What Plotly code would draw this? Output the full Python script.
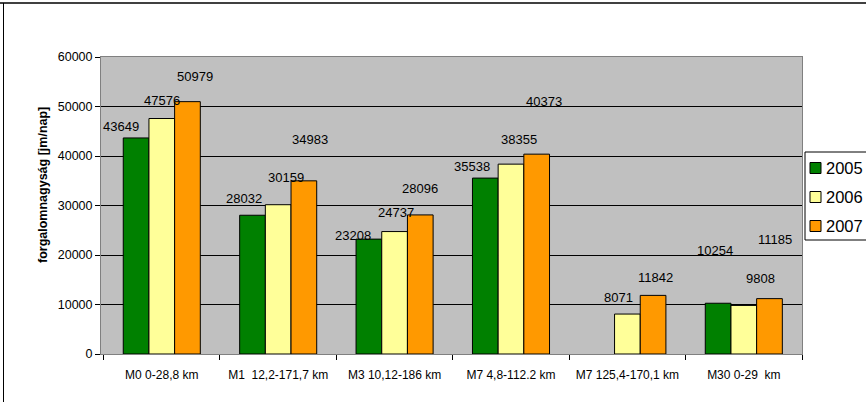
import plotly.graph_objects as go

categories = ["M0 0-28,8 km", "M1  12,2-171,7 km", "M3 10,12-186 km",
              "M7 4,8-112.2 km", "M7 125,4-170,1 km", "M30 0-29  km"]
years = ["2005", "2006", "2007"]
v2005 = [43649, 28032, 23208, 35538, None, 10254]
v2006 = [47576, 30159, 24737, 38355, 8071, 9808]
v2007 = [50979, 34983, 28096, 40373, 11842, 11185]
colors = ["#008000", "#FFFF99", "#FF9900"]
y_title = "forgalomnagyság [jm/nap]"

# label offsets (pixels) as displaced in the original chart: (dx, dy)
label_dx = [[-15, -8, -16, -13, 0, -3],
            [0, 8, 1, 8, -9, 17],
            [7, 6, 0, 7, 2, 5]]
label_dy = [[11, 17, 4, 12, 0, 53],
            [18, 27, 19, 25, 17, 27],
            [25, 41, 26, 53, 18, 59]]

W, H = 866, 402
ML, MR, MT, MB = 101, 64, 57, 48
bargap = 0.338
series = [v2005, v2006, v2007]

fig = go.Figure()
for i, (name, vals) in enumerate(zip(years, series)):
    fig.add_trace(go.Bar(
        x=categories, y=vals, name=name, showlegend=False,
        marker=dict(color=colors[i], line=dict(color="black", width=1)),
    ))

plot_w = W - ML - MR
plot_h = H - MT - MB
cat_px = plot_w / len(categories)
bar_px = cat_px * (1 - bargap) / 3

def px_x(p):
    return (p - ML) / plot_w
def px_y(p):
    return (H - MB - p) / plot_h

annotations = []
for i, vals in enumerate(series):
    for j, v in enumerate(vals):
        if v is None:
            continue
        annotations.append(dict(
            x=categories[j], y=v, xref="x", yref="y", text=str(v),
            showarrow=False, yanchor="middle", xanchor="center",
            xshift=(i - 1) * bar_px + label_dx[i][j], yshift=label_dy[i][j],
            font=dict(size=13, color="black"),
        ))

# y-axis title (placed as in the original, above axis centre)
annotations.append(dict(x=px_x(43), y=px_y(185), xref="paper", yref="paper",
                        text="<b>" + y_title + "</b>", textangle=-90, showarrow=False,
                        xanchor="center", yanchor="middle", font=dict(size=12.5, color="black")))

shapes = [
    dict(type="line", xref="paper", yref="paper", x0=px_x(0), x1=px_x(W), y0=px_y(3), y1=px_y(3),
         line=dict(color="#404040", width=2)),
    dict(type="line", xref="paper", yref="paper", x0=px_x(3.5), x1=px_x(3.5), y0=px_y(3), y1=px_y(H),
         line=dict(color="black", width=1)),
    # legend box
    dict(type="rect", xref="paper", yref="paper", x0=px_x(805), x1=px_x(870), y0=px_y(152), y1=px_y(240),
         line=dict(color="black", width=1), fillcolor="white", layer="above"),
]
leg_y = [168, 197, 226]
for i, name in enumerate(years):
    shapes.append(dict(type="rect", xref="paper", yref="paper",
                       x0=px_x(810), x1=px_x(821), y0=px_y(leg_y[i] - 5.5), y1=px_y(leg_y[i] + 5.5),
                       line=dict(color="black", width=1), fillcolor=colors[i], layer="above"))
    annotations.append(dict(x=px_x(824), y=px_y(leg_y[i]), xref="paper", yref="paper",
                            text=name, showarrow=False, xanchor="left", yanchor="middle",
                            font=dict(size=16.5, color="black")))

fig.update_layout(
    width=W, height=H,
    margin=dict(l=ML, r=MR, t=MT, b=MB, pad=0),
    barmode="group", bargap=bargap, bargroupgap=0,
    plot_bgcolor="#C0C0C0", paper_bgcolor="white",
    font=dict(family="Liberation Sans, Arial", size=12, color="black"),
    showlegend=False,
    annotations=annotations,
    shapes=shapes,
)
fig.update_xaxes(showline=True, linecolor="#808080", mirror=True, ticks="outside",
                 tickson="boundaries", ticklen=5, tickcolor="black", tickangle=0,
                 ticklabelstandoff=10,
                 automargin=False, tickfont=dict(size=12), showgrid=False)
fig.update_yaxes(range=[0, 60000], dtick=10000, tickformat="d", showline=True,
                 linecolor="#808080", mirror=True, automargin=False,
                 ticks="outside", ticklen=5, tickcolor="black", showgrid=True,
                 gridcolor="black", gridwidth=1, zeroline=False,
                 tickfont=dict(size=12.5))

fig.write_html("out.html", config={"displayModeBar": False},
               post_script="document.body.style.margin='0';document.body.style.overflow='hidden';")
